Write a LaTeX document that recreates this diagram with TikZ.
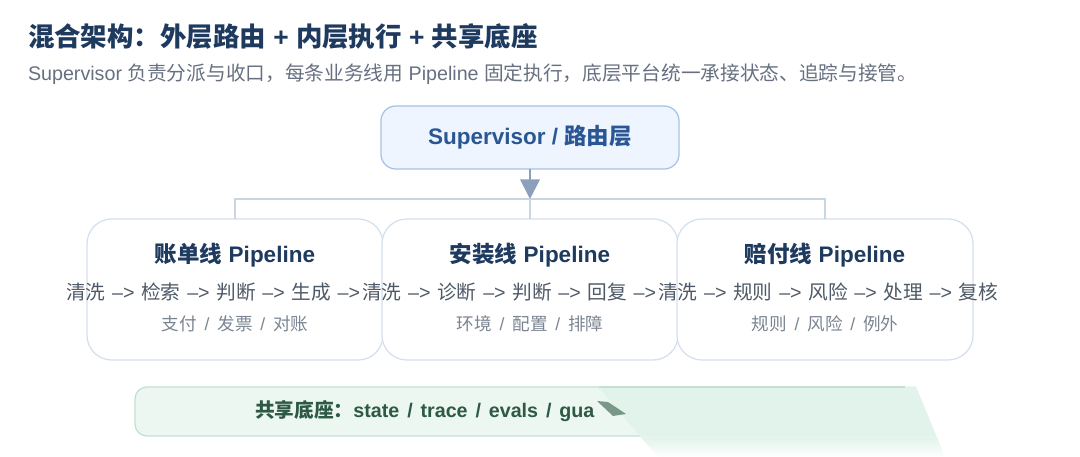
\documentclass[tikz,border=0pt]{standalone}
\usepackage{fontspec}
\setmainfont{Liberation Sans}
\newfontfamily\hanfont{Noto Sans CJK SC}[NFSSFamily=hanfam]
\usetikzlibrary{arrows.meta,fadings}

% switch to the CJK face for Han characters and full-width punctuation
\XeTeXinterchartokenstate=1
\newXeTeXintercharclass\hanclass
\newcount\hancode
\hancode="3000
\loop \XeTeXcharclass\hancode=\hanclass \ifnum\hancode<"9FFF \advance\hancode by 1 \repeat
\hancode="FF00
\loop \XeTeXcharclass\hancode=\hanclass \ifnum\hancode<"FFEF \advance\hancode by 1 \repeat
\XeTeXinterchartoks 0 \hanclass = {\fontfamily{hanfam}\selectfont}
\XeTeXinterchartoks 4095 \hanclass = {\fontfamily{hanfam}\selectfont}
\XeTeXinterchartoks \hanclass 0 = {\fontfamily{\rmdefault}\selectfont}
\XeTeXinterchartoks \hanclass 4095 = {\fontfamily{\rmdefault}\selectfont}
\XeTeXinterchartoks 4095 0 = {\fontfamily{\rmdefault}\selectfont}

\definecolor{titlenavy}{HTML}{1E3A5F}
\definecolor{subgray}{HTML}{667080}
\definecolor{supfill}{HTML}{EEF5FF}
\definecolor{supline}{HTML}{A8C2E6}
\definecolor{supink}{HTML}{2A5794}
\definecolor{tipgray}{HTML}{8DA0BB}
\definecolor{linkgray}{HTML}{C9D5E3}
\definecolor{laneline}{HTML}{D5E0EE}
\definecolor{flowink}{HTML}{4F5A68}
\definecolor{noteink}{HTML}{7B8592}
\definecolor{basefill}{HTML}{EDF7F2}
\definecolor{baseline}{HTML}{C2E0D2}
\definecolor{baseink}{HTML}{2D5A45}
\definecolor{fadegreen}{HTML}{E1F3EA}

\pgfdeclarehorizontalshading{basefade}{100bp}{color(0bp)=(fadegreen); color(86bp)=(fadegreen); color(100bp)=(white)}
\tikzfading[name=fade down, top color=transparent!0, bottom color=transparent!100]
\newcommand{\widegaps}{\spaceskip 0.34em\relax}
\newcommand{\notegaps}{\spaceskip 0.45em\relax}
\newcommand{\basegaps}{\spaceskip 0.4em\relax}

\begin{document}
\begin{tikzpicture}[x=0.025cm, y=-0.025cm,
    every node/.style={inner sep=0pt, outer sep=0pt},
    headline/.style={anchor=west, text=titlenavy, font=\fontsize{18.8}{22}\selectfont\bfseries},
    subline/.style={anchor=west, text=subgray, font=\fontsize{14}{17}\selectfont},
    router/.style={draw=supline, fill=supfill, line width=0.9pt, rounded corners=10.6pt,
        minimum width=7.45cm, minimum height=1.575cm, text=supink,
        font=\fontsize{16}{19}\selectfont\bfseries},
    lane/.style={draw=laneline, fill=white, line width=0.9pt, rounded corners=17.7pt,
        minimum width=7.4cm, minimum height=3.525cm},
    lanetitle/.style={text=titlenavy, font=\fontsize{16}{19}\selectfont\bfseries},
    flow/.style={anchor=west, text=flowink, font=\fontsize{14}{17}\selectfont\widegaps},
    note/.style={text=noteink, font=\fontsize{12.5}{15}\selectfont\notegaps},
    link/.style={draw=linkgray, line width=1.4pt},
    ]
    \useasboundingbox (0,0) rectangle (1080,457);

    % heading
    \node[headline] (title) at (28,36) {混合架构：外层路由 + 内层执行 + 共享底座};
    \node[subline] (lead) at (28,74) {Supervisor 负责分派与收口，每条业务线用 Pipeline 固定执行，底层平台统一承接状态、追踪与接管。};

    % router and lanes
    \node[router] (sup) at (530,137.5) {Supervisor / 路由层};

    \node[lane] (L1) at (235,289.5) {};
    \node[lane] (L2) at (530,289.5) {};
    \node[lane] (L3) at (825,289.5) {};

    \coordinate (hub) at (530,199);
    \draw[link] (L1.north) |- (hub) -| (L3.north);
    \draw[link] (hub) -- (L2.north);
    \draw[draw=tipgray, line width=1.4pt, -{Triangle[length=14pt, width=14pt]}] (sup.south) -- (hub);

    \node[lanetitle] (T1) at (235,255) {账单线 Pipeline};
    \node[flow] (F1) at (66,292) {清洗 –> 检索 –> 判断 –> 生成 –>};
    \node[note] (N1) at (235,324) {支付 / 发票 / 对账};

    \node[lanetitle] (T2) at (530,255) {安装线 Pipeline};
    \node[flow] (F2) at (362,292) {清洗 –> 诊断 –> 判断 –> 回复 –>};
    \node[note] (N2) at (530,324) {环境 / 配置 / 排障};

    \node[lanetitle] (T3) at (825,255) {赔付线 Pipeline};
    \node[flow] (F3) at (658,292) {清洗 –> 规则 –> 风险 –> 处理 –> 复核};
    \node[note] (N3) at (825,324) {规则 / 风险 / 例外};

    % shared base
    \draw[draw=baseline, fill=basefill, line width=0.9pt, rounded corners=8.5pt] (135,387) rectangle (915,436);
    \node[anchor=west, text=baseink, font=\fontsize{14}{16}\selectfont\bfseries\basegaps] (base) at (255,411) {共享底座：state / trace / evals / gua};
    \shade[shading=basefade] (598,386.5) -- (916,386.5) -- (937,437.5) -- (641,437.5) -- cycle;
    \shade[shading=basefade, path fading=fade down] (641,437.5) -- (937,437.5) -- (945,457) -- (658,457) -- cycle;
    \draw[draw=baseline, line width=0.9pt] (599,387) -- (905,387);
    \fill[baseink, opacity=0.6] (597,401) -- (608,402) -- (626,414) -- (613,416) -- cycle;
\end{tikzpicture}
\end{document}
